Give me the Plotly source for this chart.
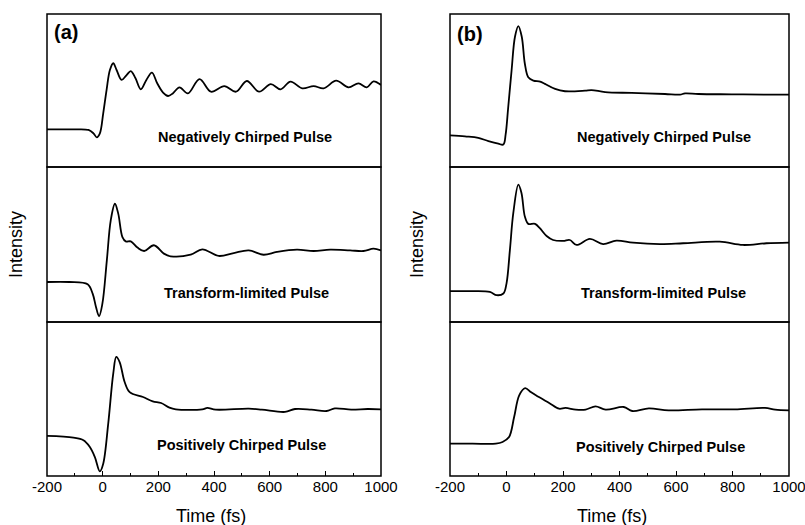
import plotly.graph_objects as go

W, H = 805, 525

# ---- data (time in fs, intensity in arbitrary units) ----
a_neg_t = [-200,-150,-100,-51,-33,-21,-10,2,14,26,38,50,68,86,101,118,137,157,177,196,217,235,252,276,306,348,389,437,479,518,562,604,639,675,717,758,794,839,883,919,949,973,1000]
a_neg_y = [24.6,24.6,24.6,24.2,22.0,19.4,22.0,35.1,50.3,63.4,67.8,63.4,56.9,60.1,62.7,58.0,50.8,56.9,61.7,54.7,48.6,46.4,48.1,52.1,48.1,57.5,49.2,52.9,49.2,56.2,49.2,54.2,50.8,55.8,51.4,52.9,51.4,56.4,52.1,54.7,52.1,56.0,53.6]

a_tl_t = [-200,-120,-54,-36,-24,-13,-1,15,29,44,56,71,83,101,125,149,184,220,244,316,358,417,471,525,578,626,698,758,817,889,937,973,1000]
a_tl_y = [25.8,25.8,24.3,18.3,9.7,3.7,11.8,39.8,65.6,76.3,69.9,54.8,52.0,52.0,48.0,45.8,49.5,44.1,42.4,43.4,46.9,42.6,44.5,46.2,43.4,45.2,46.7,45.8,46.7,46.2,45.8,47.3,46.2]

a_pos_t = [-200,-105,-69,-46,-28,-10,2,20,38,49,61,79,97,145,180,210,240,263,358,376,406,525,572,655,691,750,804,834,893,952,1000]
a_pos_y = [26.0,24.9,23.2,18.8,12.3,3.0,8.0,34.0,66.5,77.3,74.0,61.0,54.5,51.3,48.5,47.4,44.4,43.3,43.3,44.2,43.1,43.7,43.1,41.6,43.5,43.1,42.2,43.9,43.1,43.5,43.3]

b_neg_t = [-200,-147,-100,-64,-29,-11,-3,6,18,30,42,54,65,77,95,119,136,172,207,278,301,349,443,561,614,632,679,797,915,1000]
b_neg_y = [20.7,20.0,19.1,16.9,15.2,14.7,21.3,38.9,63.1,85.1,92.1,85.1,67.5,58.7,56.5,55.8,54.3,51.0,49.5,49.9,50.3,49.0,48.4,47.7,47.3,48.1,47.7,47.5,47.3,47.3]

b_tl_t = [-200,-120,-59,-35,-11,0,12,24,42,53,65,77,101,118,142,165,201,224,248,295,342,389,448,543,625,755,837,920,1000]
b_tl_y = [19.9,19.9,19.4,17.3,18.4,24.8,46.4,70.2,88.6,83.2,68.0,63.3,63.3,60.5,55.5,52.9,52.3,52.9,49.7,53.6,50.3,52.5,51.2,50.3,50.8,51.8,49.7,50.8,51.2]

b_pos_t = [-200,-120,-38,-14,9,27,45,66,86,104,151,186,209,245,280,315,351,415,445,504,574,692,809,915,951,1000]
b_pos_y = [21.0,21.0,21.0,22.1,25.3,38.3,52.4,57.1,54.5,52.4,47.4,43.7,44.2,43.1,43.1,45.2,43.1,44.8,42.2,43.9,42.6,43.3,43.3,44.2,43.1,42.6]

panel_labels = ["Negatively Chirped Pulse", "Transform-limited Pulse", "Positively Chirped Pulse"]
column_tags = ["(a)", "(b)"]
x_ticks = [-200, 0, 200, 400, 600, 800, 1000]
x_ticktext = ["-200", "0", "200", "400", "600", "800", "1000"]
x_minor = [-100, 100, 300, 500, 700, 900]
x_title = "Time (fs)"
y_title = "Intensity"

# ---- layout geometry (pixels) ----
FONT = "Liberation Sans, Arial, Helvetica, sans-serif"
ML, MR, MT, MB = 47, 16, 14, 49
PW, PH = W - ML - MR, H - MT - MB


def px_x(p):
    return (p - ML) / PW


def px_y(p):
    return 1 - (p - MT) / PH


col_x = [(px_x(47), px_x(381)), (px_x(450), px_x(789))]
row_y = [(px_y(167), px_y(14)), (px_y(322), px_y(167)), (px_y(476), px_y(322))]

series = [(a_neg_t, a_neg_y), (a_tl_t, a_tl_y), (a_pos_t, a_pos_y),
          (b_neg_t, b_neg_y), (b_tl_t, b_tl_y), (b_pos_t, b_pos_y)]

label_pos = [(511, 19.6), (515, 18.7), (499, 20.1),
             (557, 19.6), (554, 18.7), (545, 18.8)]

fig = go.Figure()
layout = dict(width=W, height=H, autosize=False,
              margin=dict(l=ML, r=MR, t=MT, b=MB, pad=0),
              paper_bgcolor="white", plot_bgcolor="white",
              showlegend=False, font=dict(family=FONT, color="black"))
annotations = []
shapes = []

for i, (t, y) in enumerate(series):
    col, row = divmod(i, 3)
    n = i + 1
    xa = "x" if n == 1 else f"x{n}"
    ya = "y" if n == 1 else f"y{n}"
    fig.add_trace(go.Scatter(x=t, y=y, mode="lines", xaxis=xa, yaxis=ya,
                             line=dict(color="black", width=1.8, shape="spline", smoothing=1.0),
                             hoverinfo="skip"))
    bottom = row == 2
    xkey = "xaxis" if n == 1 else f"xaxis{n}"
    ykey = "yaxis" if n == 1 else f"yaxis{n}"
    xa_cfg = dict(domain=list(col_x[col]), anchor=ya, range=[-200, 1000],
                  showline=False, showgrid=False, zeroline=False, fixedrange=True,
                  automargin=False)
    if bottom:
        xa_cfg.update(tickmode="array", tickvals=x_ticks, ticktext=x_ticktext,
                      ticks="inside", ticklen=5, ticklabeloverflow="allow",
                      tickwidth=1.2, tickcolor="black", showticklabels=True,
                      tickfont=dict(family=FONT, size=15, color="black"),
                      minor=dict(ticks="inside", ticklen=3, tickwidth=1, tickcolor="black",
                                 tickmode="array", tickvals=x_minor))
    else:
        xa_cfg.update(showticklabels=False, ticks="")
    layout[xkey] = xa_cfg
    ya_cfg = dict(domain=list(row_y[row]), anchor=xa, range=[0, 100],
                  showline=False, showgrid=False, zeroline=False,
                  showticklabels=False, ticks="", fixedrange=True, automargin=False)
    if row == 1:
        ya_cfg["title"] = dict(text=y_title, font=dict(family=FONT, size=18, color="black"),
                               standoff=18 if col == 0 else 20)
    layout[ykey] = ya_cfg
    # panel frame
    shapes.append(dict(type="rect", xref="paper", yref="paper",
                       x0=col_x[col][0], x1=col_x[col][1], y0=row_y[row][0], y1=row_y[row][1],
                       line=dict(color="black", width=1.5), fillcolor="rgba(0,0,0,0)", layer="above"))
    lx, ly = label_pos[i]
    annotations.append(dict(x=lx, y=ly, xref=xa, yref=ya, text="<b>" + panel_labels[row] + "</b>",
                            showarrow=False, font=dict(family=FONT, size=14.5, color="black"),
                            xanchor="center", yanchor="middle"))

# column tags
annotations.append(dict(x=-132, y=88, xref="x", yref="y", text="<b>" + column_tags[0] + "</b>",
                        showarrow=False, font=dict(family=FONT, size=20, color="black"),
                        xanchor="center", yanchor="middle"))
annotations.append(dict(x=-129, y=87, xref="x4", yref="y4", text="<b>" + column_tags[1] + "</b>",
                        showarrow=False, font=dict(family=FONT, size=20, color="black"),
                        xanchor="center", yanchor="middle"))

# x axis titles
for cx in (211, 612):
    annotations.append(dict(x=px_x(cx), y=px_y(516), xref="paper", yref="paper", text=x_title,
                            showarrow=False, font=dict(family=FONT, size=18, color="black"),
                            xanchor="center", yanchor="middle"))

layout["annotations"] = annotations
layout["shapes"] = shapes
fig.update_layout(**layout)
fig.write_html("out.html")
